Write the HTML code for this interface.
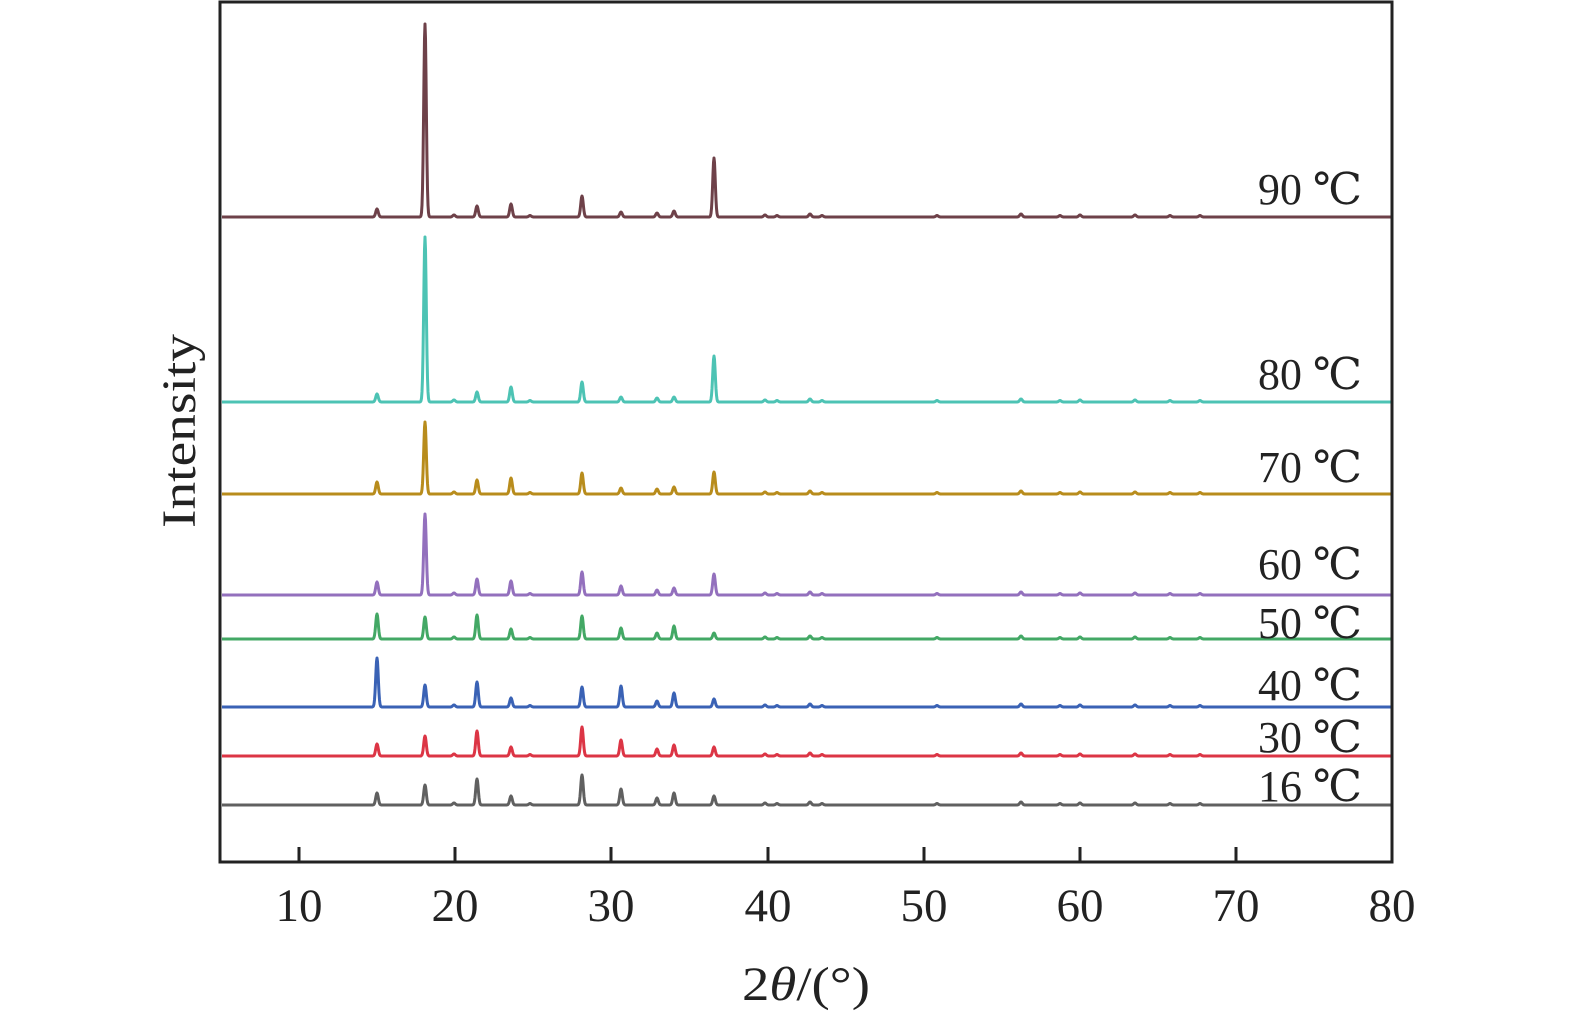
<!DOCTYPE html>
<html><head><meta charset="utf-8"><style>
html,body{margin:0;padding:0;background:#fff;overflow:hidden;width:1575px;height:1022px}
svg{display:block}
text{font-family:"Liberation Serif","DejaVu Serif",serif;fill:#222}
</style></head><body>
<svg id="s" width="1575" height="1022" viewBox="0 0 1575 1022" xmlns="http://www.w3.org/2000/svg">
<g id="series"></g>
<rect x="220" y="2" width="1172" height="860" fill="none" stroke="#222" stroke-width="3"/>
<g stroke="#222" stroke-width="3">
<line x1="299" y1="862" x2="299" y2="847"/><line x1="455" y1="862" x2="455" y2="847"/>
<line x1="611" y1="862" x2="611" y2="847"/><line x1="768" y1="862" x2="768" y2="847"/>
<line x1="924" y1="862" x2="924" y2="847"/><line x1="1080" y1="862" x2="1080" y2="847"/>
<line x1="1236" y1="862" x2="1236" y2="847"/>
</g>
<g font-size="47" text-anchor="middle">
<text x="299" y="921">10</text><text x="455" y="921">20</text><text x="611" y="921">30</text>
<text x="768" y="921">40</text><text x="924" y="921">50</text><text x="1080" y="921">60</text>
<text x="1236" y="921">70</text><text x="1392" y="921">80</text>
</g>
<text x="742" y="1000" font-size="48" textLength="128" lengthAdjust="spacingAndGlyphs">2<tspan font-style="italic">θ</tspan>/(°)</text>
<text transform="translate(195,528) rotate(-90)" font-size="48" textLength="194" lengthAdjust="spacingAndGlyphs">Intensity</text>
<g font-size="44">
<text x="1258" y="204" textLength="104" lengthAdjust="spacingAndGlyphs">90 ℃</text>
<text x="1258" y="389" textLength="104" lengthAdjust="spacingAndGlyphs">80 ℃</text>
<text x="1258" y="482" textLength="104" lengthAdjust="spacingAndGlyphs">70 ℃</text>
<text x="1258" y="579" textLength="104" lengthAdjust="spacingAndGlyphs">60 ℃</text>
<text x="1258" y="638" textLength="104" lengthAdjust="spacingAndGlyphs">50 ℃</text>
<text x="1258" y="700" textLength="104" lengthAdjust="spacingAndGlyphs">40 ℃</text>
<text x="1258" y="752" textLength="104" lengthAdjust="spacingAndGlyphs">30 ℃</text>
<text x="1258" y="801" textLength="104" lengthAdjust="spacingAndGlyphs">16 ℃</text>
</g>
</svg>
<script>
var xs=[377,425,477,511,582,621,657,674,714];
var D=[
["#6e4149",217,[209,24,206,204,196,212,213,211,158]],
["#4dc3b4",402,[394,237,392,387,382,397,398,397,356]],
["#b88c1c",494,[482,422,480,478,473,488,489,487,472]],
["#9370bd",595,[582,514,579,581,572,586,590,588,574]],
["#43a865",639,[614,617,615,629,616,628,633,626,633]],
["#3a62b5",707,[658,685,682,698,687,686,701,693,699]],
["#dc3545",756,[744,736,731,747,727,740,749,745,747]],
["#606060",805,[793,785,779,796,775,789,798,793,796]]];
var small=[[454,2],[530,1.5],[765,2],[777,1.5],[810,3],[822,1.5],[1021,3],[937,1.5],[1060,1.5],[1080,2],[1135,2],[1170,1.5],[1200,1.5]];
var g=document.getElementById('series'),h='';
D.forEach(function(d){
  var pk=xs.map(function(x,i){return [x,d[1]-d[2][i]];}).concat(small);
  var p='';
  for(var x=222;x<=1391;x+=0.5){
    var y=d[1];
    pk.forEach(function(q){var t=(x-q[0])/1.8;y-=q[1]*Math.exp(-t*t);});
    p+=(p?'L':'M')+x+' '+y.toFixed(1);
  }
  h+='<path d="'+p+'" fill="none" stroke="'+d[0]+'" stroke-width="3" stroke-linejoin="round"/>';
});
g.innerHTML=h;
</script>
</body></html>
